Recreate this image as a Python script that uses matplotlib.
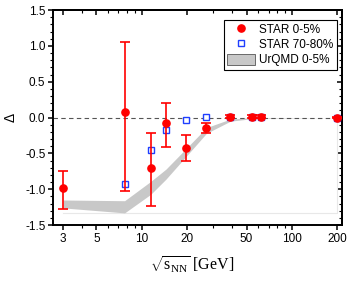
import matplotlib
matplotlib.use("Agg")
import matplotlib.pyplot as plt
from matplotlib.patches import Patch
from matplotlib.lines import Line2D
from matplotlib.ticker import FixedLocator, NullFormatter, FixedFormatter, MultipleLocator

plt.rcParams['font.family'] = ['Liberation Sans', 'DejaVu Sans']
plt.rcParams['mathtext.fontset'] = 'custom'
plt.rcParams['mathtext.rm'] = 'Liberation Serif'
plt.rcParams['mathtext.it'] = 'Liberation Serif:italic'

# STAR 0-5%
e_c = [3, 7.7, 11.5, 14.5, 19.6, 27, 39, 54.4, 62.4, 200]
d_c = [-0.98, 0.08, -0.70, -0.08, -0.42, -0.14, 0.01, 0.01, 0.01, 0.0]
elo_c = [0.30, 1.11, 0.53, 0.33, 0.18, 0.07, 0.02, 0.02, 0.02, 0.01]
ehi_c = [0.24, 0.97, 0.48, 0.29, 0.18, 0.07, 0.02, 0.02, 0.02, 0.01]

# STAR 70-80%
e_p = [7.7, 11.5, 14.5, 19.6, 27, 39, 54.4, 62.4, 200]
d_p = [-0.92, -0.45, -0.18, -0.04, 0.01, 0.01, 0.01, 0.01, 0.0]

# UrQMD 0-5% band
e_u = [3, 7.7, 11.5, 14.5, 19.6, 27, 39, 54.4, 62.4, 200]
lo_u = [-1.26, -1.33, -1.07, -0.86, -0.55, -0.22, -0.05, -0.015, -0.01, 0.0]
hi_u = [-1.15, -1.16, -0.89, -0.72, -0.44, -0.14, -0.02, 0.0, 0.0, 0.0]

xticks = [3, 5, 10, 20, 50, 100, 200]
yticks = [-1.5, -1.0, -0.5, 0.0, 0.5, 1.0, 1.5]
xminor = [4, 6, 7, 8, 9, 30, 40, 60, 70, 80, 90]

fig = plt.figure(figsize=(3.49, 2.81), dpi=100)
ax = fig.add_axes([0.152, 0.199, 0.828, 0.765])

band_col = '#c8c8c8'
ax.fill_between(e_u, lo_u, hi_u, color=band_col, lw=0, zorder=1)
ax.plot([e_u[0], e_u[-1], e_u[-1]], [min(lo_u), min(lo_u), 0], color='#e8e8e8', lw=0.8, zorder=0.5)

ax.axhline(0, color='#555555', lw=0.8, ls=(0, (4, 3)), zorder=1.5)

ax.plot(e_p, d_p, ls='none', marker='s', ms=4.2, mfc='white', mec='#1f3fff', mew=1.0, zorder=3)
ax.errorbar(e_c, d_c, yerr=[elo_c, ehi_c], fmt='o', color='#ff0000', ms=5.2,
            elinewidth=1.2, capsize=3.3, capthick=1.2, zorder=4)

ax.set_xscale('log')
ax.set_xlim(2.57, 216)
ax.set_ylim(-1.5, 1.5)

ax.xaxis.set_major_locator(FixedLocator(xticks))
ax.xaxis.set_major_formatter(FixedFormatter([str(t) for t in xticks]))
ax.xaxis.set_minor_locator(FixedLocator(xminor))
ax.xaxis.set_minor_formatter(NullFormatter())
ax.yaxis.set_major_locator(FixedLocator(yticks))
ax.set_yticklabels([f"{t:.1f}" for t in yticks])
ax.yaxis.set_minor_locator(MultipleLocator(0.1))

for s in ax.spines.values():
    s.set_linewidth(1.4)
ax.tick_params(which='major', direction='out', length=3.5, width=1.1, labelsize=8.5, pad=2)
ax.tick_params(which='minor', direction='out', length=2, width=0.8)

sx = ax.secondary_xaxis('top')
sx.xaxis.set_major_locator(FixedLocator(xticks))
sx.xaxis.set_minor_locator(FixedLocator(xminor))
sx.xaxis.set_major_formatter(NullFormatter())
sx.xaxis.set_minor_formatter(NullFormatter())
sx.tick_params(which='major', direction='in', length=3.5, width=1.1)
sx.tick_params(which='minor', direction='in', length=2, width=0.8)
sy = ax.secondary_yaxis('right')
sy.yaxis.set_major_locator(FixedLocator(yticks))
sy.yaxis.set_minor_locator(MultipleLocator(0.1))
sy.yaxis.set_major_formatter(NullFormatter())
sy.yaxis.set_minor_formatter(NullFormatter())
sy.tick_params(which='major', direction='in', length=3.5, width=1.1)
sy.tick_params(which='minor', direction='in', length=2, width=0.8)
for s in list(sx.spines.values()) + list(sy.spines.values()):
    s.set_linewidth(1.4)

ax.set_xlabel(r'$\sqrt{\mathrm{s}_{\mathrm{NN}}}$ [GeV]', family='Liberation Serif', fontsize=11.5)
ax.xaxis.set_label_coords(0.48, -0.135)
ax.set_ylabel('Δ', fontsize=10, labelpad=5)

handles = [
    Line2D([], [], ls='none', marker='o', ms=5.2, color='#ff0000'),
    Line2D([], [], ls='none', marker='s', ms=4.2, mfc='white', mec='#1f3fff', mew=1.0),
    Patch(facecolor=band_col, edgecolor='#555555', lw=0.6),
]
leg = ax.legend(handles, ['STAR 0-5%', 'STAR 70-80%', 'UrQMD 0-5%'], loc='upper right',
                bbox_to_anchor=(0.99, 0.965), fontsize=8.5, frameon=True, fancybox=False,
                edgecolor='black', framealpha=1, handlelength=2.4, handleheight=1.1,
                handletextpad=0.3, borderpad=0.3, labelspacing=0.2, borderaxespad=0.2)
leg.get_frame().set_linewidth(0.8)

fig.savefig('out.png', dpi=100)
